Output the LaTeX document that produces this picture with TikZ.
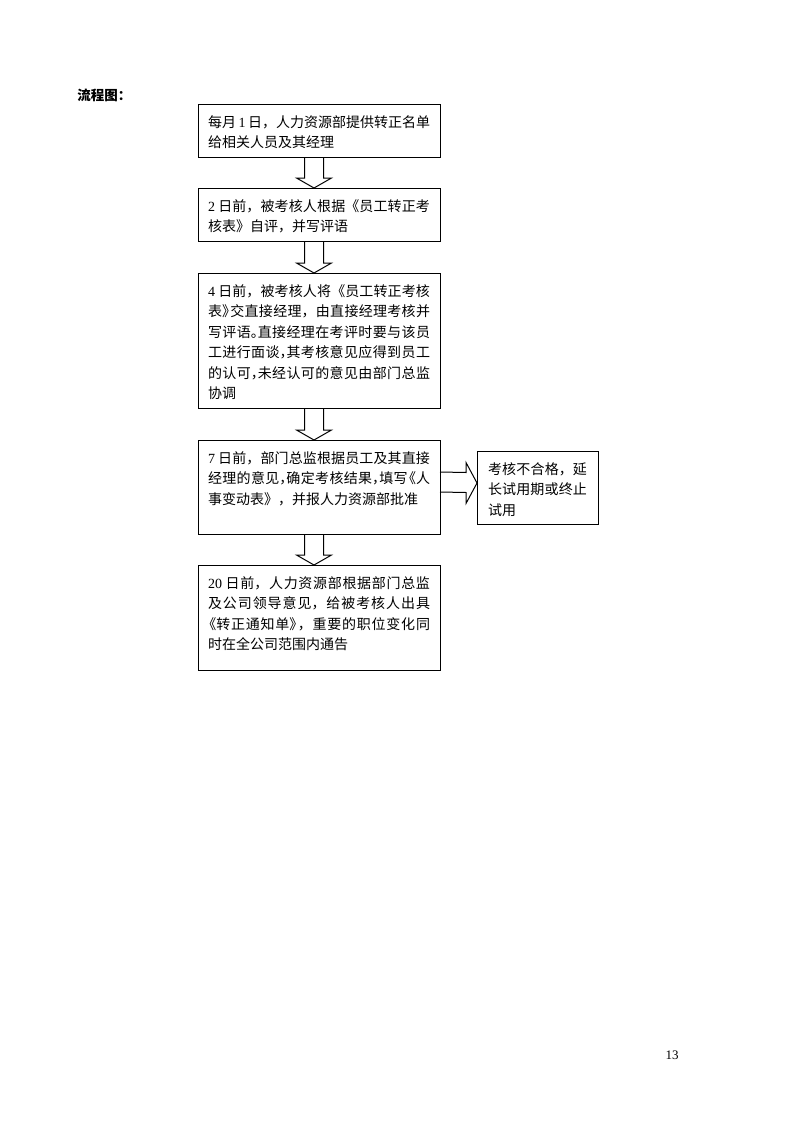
\documentclass[tikz,border=0pt]{standalone}
\usepackage{fontspec}
\setmainfont{Noto Sans CJK SC}
\newfontfamily\lat{Liberation Serif}
\usetikzlibrary{calc}
\newlength\px \setlength\px{0.75pt}
\XeTeXlinebreaklocale "zh"
\XeTeXlinebreakskip=0pt plus 1.5pt
\newcommand\topst{\rule{0pt}{23\px}}
\newcommand\hpl[1]{\makebox[0.5em][l]{#1}}
\newcommand\hpr[1]{\makebox[0.6em][r]{#1}}
\newcommand\hpk[1]{\makebox[0.6em][l]{#1}}
\newcommand\boxtext[3]{\parbox[c][#1\px][t]{#2\px}{\fontsize{14\px}{20.5\px}\selectfont\parindent=0pt\tolerance=10000\topst #3}}
\newcommand\dnarrow[2]{\draw[barrow] ([xshift=-14.5\px]#1.south) -- ([xshift=-14.5\px,yshift=10\px]#2.north) -- ([xshift=-22.5\px,yshift=10\px]#2.north) -- ([xshift=-5\px]#2.north) -- ([xshift=12.5\px,yshift=10\px]#2.north) -- ([xshift=4.5\px,yshift=10\px]#2.north) -- ([xshift=4.5\px]#1.south);}
\tikzset{
  box/.style={draw, line width=1\px, inner xsep=10\px, inner ysep=0pt, anchor=north west, outer sep=0pt},
  barrow/.style={draw, line width=1\px, line join=miter}
}
\begin{document}
\begin{tikzpicture}[x=0.75pt,y=-0.75pt]
\useasboundingbox (0,0) rectangle (800,1132);
\node[anchor=west, inner sep=0pt, font=\bfseries\fontsize{13.5\px}{15\px}\selectfont] (title) at (77,95) {流程图：};
\node[box] (b1) at (198,104) {\boxtext{53}{222}{每月 {\lat 1} 日，人力资源部提供转正名单\linebreak 给相关人员及其经理}};
\node[box] (b2) at (198,188) {\boxtext{53}{222}{{\lat 2} 日前，被考核人根据《员工转正考\linebreak 核表》自评，并写评语}};
\node[box] (b3) at (198,273) {\boxtext{135}{222}{{\lat 4} 日前，被考核人将《员工转正考核\linebreak 表\hpk{》}交直接经理，由直接经理考核并\linebreak 写评语\hpl{。}直接经理在考评时要与该员\linebreak 工进行面谈\hpl{，}其考核意见应得到员工\linebreak 的认可\hpl{，}未经认可的意见由部门总监\linebreak 协调}};
\node[box] (b4) at (198,440) {\boxtext{94}{222}{{\lat 7} 日前，部门总监根据员工及其直接\linebreak 经理的意见\hpl{，}确定考核结果\hpl{，}填写\hpr{《}人\linebreak 事变动表》，并报人力资源部批准}};
\node[box] (b5) at (198,565) {\boxtext{105}{222}{{\lat 20} 日前，人力资源部根据部门总监\linebreak 及公司领导意见，给被考核人出具\linebreak \hpr{《}转正通知单\hpk{》}，重要的职位变化同\linebreak 时在全公司范围内通告}};
\node[box, inner xsep=11\px] (sd) at (477,451) {\boxtext{73}{99}{考核不合格，延\linebreak 长试用期或终止\linebreak 试用}};
\dnarrow{b1}{b2}
\dnarrow{b2}{b3}
\dnarrow{b3}{b4}
\dnarrow{b4}{b5}
\draw[barrow] ([yshift=15\px]b4.east) -- ([xshift=-11\px,yshift=15\px]sd.west) -- ([xshift=-11\px,yshift=25\px]sd.west) -- ([yshift=4.5\px]sd.west) -- ([xshift=-11\px,yshift=-16\px]sd.west) -- ([xshift=-11\px,yshift=-5\px]sd.west) -- ([yshift=-5\px]b4.east);
\node[inner sep=0pt, font=\lat\fontsize{13\px}{15\px}\selectfont] (pg) at (672,1055) {13};
\end{tikzpicture}
\end{document}
